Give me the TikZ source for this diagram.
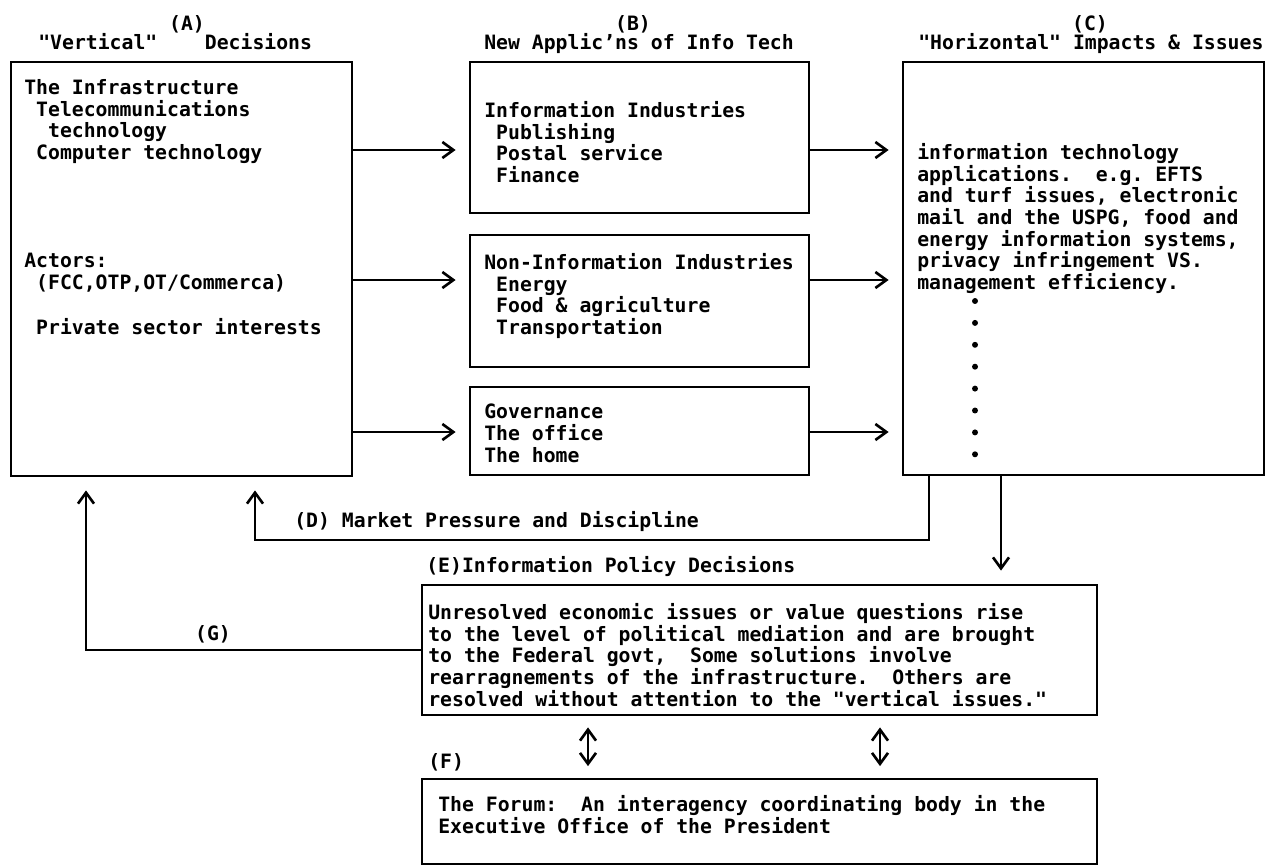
\documentclass[tikz,border=0pt]{standalone}
\usepackage{fontspec}
\usepackage{tikz}
\usetikzlibrary{arrows.meta,fit}
\newfontfamily\typer{DejaVu Sans Mono}
\frenchspacing

\begin{document}
\begin{tikzpicture}[x=0.02cm, y=-0.02cm, line width=1.5pt,
    box/.style={draw, line width=1.6pt, inner sep=0pt},
    txt/.style={anchor=north west, inner sep=0pt, align=left,
      font=\typer\bfseries\fontsize{11.25}{12.35}\selectfont},
    lbl/.style={anchor=base west, inner sep=0pt,
      font=\typer\bfseries\fontsize{11.25}{12.35}\selectfont},
    arr/.style={-{Straight Barb[length=2.2mm,width=3.2mm]}, shorten >=0.26cm},
    dbl/.style={{Straight Barb[length=2.2mm,width=3.2mm]}-{Straight Barb[length=2.2mm,width=3.2mm]},
      shorten >=0.23cm, shorten <=0.22cm}]
    \useasboundingbox (0,0) rectangle (1267,866);

    % Column headings
    \node[lbl, anchor=base] (hA) at (187,30) {(A)};
    \node[lbl] (hAt) at (37,49) {"Vertical"~~~ Decisions};
    \node[lbl, anchor=base] (hB) at (633,30) {(B)};
    \node[lbl] (hBt) at (483,49) {New Applic’ns of Info Tech};
    \node[lbl, anchor=base] (hC) at (1090,30) {(C)};
    \node[lbl] (hCt) at (917,49) {"Horizontal" Impacts \& Issues};

    % Boxes
    \node[box, fit={(11,62) (352,476)}] (A) {};
    \node[box, fit={(470,62) (809,213)}] (B1) {};
    \node[box, fit={(470,235) (809,367)}] (B2) {};
    \node[box, fit={(470,387) (809,475)}] (B3) {};
    \node[box, fit={(903,62) (1264,475)}] (C) {};
    \node[box, fit={(422,585) (1097,715)}] (E) {};
    \node[box, fit={(422,779) (1097,864)}] (F) {};

    % Box texts
    \node[txt] (Atop) at (23,78) {The Infrastructure\\~Telecommunications\\~~technology\\~Computer technology};
    \node[txt] (Aact) at (23,252) {Actors:\\~(FCC,OTP,OT/Commerca)};
    \node[txt] (Apriv) at (23,317) {~Private sector interests};
    \node[txt] (B1t) at (483,100) {Information Industries\\~Publishing\\~Postal service\\~Finance};
    \node[txt] (B2t) at (483,252) {Non-Information Industries\\~Energy\\~Food \& agriculture\\~Transportation};
    \node[txt] (B3t) at (483,403) {Governance\\The office\\The home};
    \node[txt] (Ct) at (916,142) {information technology\\applications.~ e.g. EFTS\\and turf issues, electronic\\mail and the USPG, food and\\energy information systems,\\privacy infringement VS.\\management efficiency.};
    \node[txt] (Et) at (427,602) {Unresolved economic issues or value questions rise\\to the level of political mediation and are brought\\to the Federal govt,~ Some solutions involve\\rearragnements of the infrastructure.~ Others are\\resolved without attention to the "vertical issues."};
    \node[txt] (Ft) at (437,794) {The Forum:~ An interagency coordinating body in the\\Executive Office of the President};

    % Dots in C
    \foreach \i in {0,...,7}
        \fill (975,301+21.9*\i) circle (1.7pt);

    % Labels
    \node[lbl] (lD) at (293,527) {(D) Market Pressure and Discipline};
    \node[lbl] (lE) at (425,572) {(E)Information Policy Decisions};
    \node[lbl] (lF) at (427,768) {(F)};
    \node[lbl, anchor=base] (lG) at (213,640) {(G)};

    % Rows and turning points
    \coordinate (r1) at (0,150);
    \coordinate (r2) at (0,280);
    \coordinate (r3) at (0,432);
    \coordinate (dturn) at (929,540);
    \coordinate (dup) at (255,540);
    \coordinate (gx) at (86,0);
    \coordinate (ex) at (1001,0);
    \coordinate (f1) at (588,0);
    \coordinate (f2) at (880,0);

    % A to B, B to C
    \foreach \r/\b in {r1/B1, r2/B2, r3/B3} {
        \draw[arr] (A.east |- \r) -- (\b.west |- \r);
        \draw[arr] (\b.east |- \r) -- (C.west |- \r);
    }

    % Feedback and policy arrows
    \draw[arr] (C.south -| dturn) -- (dturn) -| (A.south -| dup);
    \draw[arr] (C.south -| ex) -- (E.north -| ex);
    \draw[arr] (E.west) -| (A.south -| gx);
    \draw[dbl] (E.south -| f1) -- (F.north -| f1);
    \draw[dbl] (E.south -| f2) -- (F.north -| f2);
\end{tikzpicture}
\end{document}
